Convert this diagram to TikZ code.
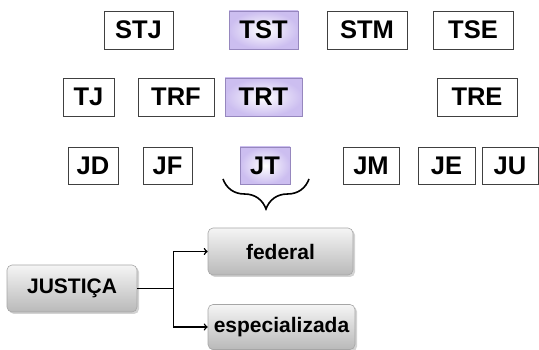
\documentclass[tikz,border=0pt]{standalone}
\usepackage{fontspec}
\setmainfont{Liberation Sans}
\usetikzlibrary{shapes,arrows,positioning,calc,shadows,decorations.pathreplacing}

\definecolor{lavanda}{RGB}{204,190,240}
\definecolor{bordalavanda}{RGB}{150,135,190}
\tikzset{
  caixa/.style={draw=black!75, line width=0.8pt, fill=white, inner sep=0pt, font=\fontsize{25.5}{26}\selectfont\bfseries},
  destaque/.style={caixa, draw=bordalavanda, inner color=white, outer color=lavanda, drop shadow={shadow xshift=0.8pt, shadow yshift=-0.8pt, opacity=0.3}},
  ramo/.style={rounded corners=5pt, draw=gray!70, line width=0.6pt, top color=gray!8, bottom color=gray!55, inner sep=0pt, font=\fontsize{21}{22}\selectfont\bfseries, drop shadow={shadow xshift=2pt, shadow yshift=-2pt, opacity=0.35}}
}

\begin{document}
\begin{tikzpicture}[x=1pt, y=-1pt]
    \useasboundingbox (0,0) rectangle (539,350);
    % tribunais superiores, regionais e justicas
    \foreach \nome/\x/\y/\w/\h/\estilo in {STJ/138.5/30/69/38/caixa, TST/263.5/30/69/38/destaque, STM/367/30/80/38/caixa, TSE/473/30/80/38/caixa,
      TJ/88.5/97/51/38/caixa, TRF/176/97/76/38/caixa, TRT/263.5/97/77/38/destaque, TRE/477/97/80/38/caixa,
      JD/93/165.5/50/37/caixa, JF/167.5/165.5/49/37/caixa, JT/265/165.5/50/37/destaque, JM/371/165.5/56/37/caixa, JE/446.5/165.5/57/37/caixa, JU/510/165.5/56/37/caixa} {
      \node[\estilo, minimum width=\w pt, minimum height=\h pt] (\nome) at (\x,\y) {\nome};
    }
    \draw [decorate, decoration={brace, amplitude=30pt}, line width=1.6pt] (309,179) -- (223,179);
    % divisao da justica
    \node[ramo, minimum width=130pt, minimum height=47pt] (JUS) at (72,288.5) {JUSTIÇA};
    \node[ramo, minimum width=145pt, minimum height=47pt] (FED) at (280.5,251.5) {federal};
    \node[ramo, minimum width=147pt, minimum height=45pt] (ESP) at (281.5,327) {especializada};
    \draw [->, line width=1.5pt] (JUS.east) -- ++(36,0) coordinate (bif) |- (FED.west);
    \draw [->, line width=1.5pt] (bif) |- (ESP.west);
  \end{tikzpicture}
\end{document}
